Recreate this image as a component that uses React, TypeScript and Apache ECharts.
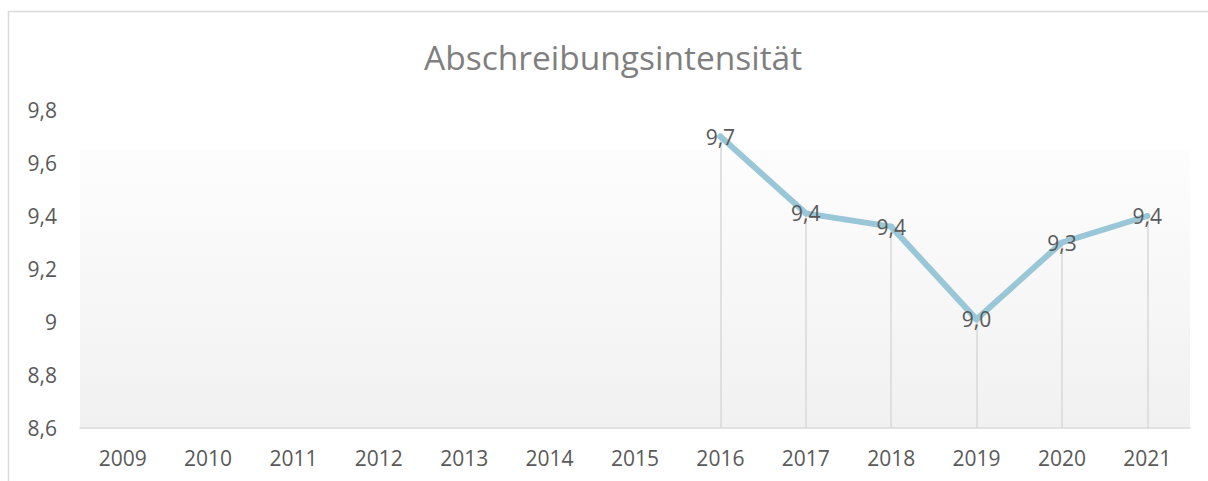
import React, { useEffect, useRef } from "react";
import * as echarts from "echarts";

const years = ["2009", "2010", "2011", "2012", "2013", "2014", "2015", "2016", "2017", "2018", "2019", "2020", "2021"];
const values: (number | null)[] = [null, null, null, null, null, null, null, 9.7, 9.41, 9.36, 9.01, 9.3, 9.4];
const yMin = 8.6;
const yMax = 9.8;
const yStep = 0.2;
const titleText = "Abschreibungsintensität";

const FONT = "'Open Sans', 'Noto Sans', sans-serif";

export default function App() {
  const ref = useRef<HTMLDivElement>(null);
  useEffect(() => {
    document.body.style.margin = "0";
    if (!ref.current) return;
    const chart = echarts.init(ref.current, undefined, { renderer: "svg" });
    const dropLines = values
      .map((v, i) => (v == null ? null : [{ coord: [i, v] }, { coord: [i, yMin] }]))
      .filter((d) => d != null);
    chart.setOption({
      animation: false,
      backgroundColor: "#ffffff",
      title: {
        text: titleText,
        left: 419,
        top: 35,
        textStyle: { fontFamily: FONT, fontSize: 33.5, fontWeight: "normal", color: "#7f7f7f" },
      },
      graphic: [
        {
          type: "rect",
          z: -1,
          silent: true,
          shape: { x: 8.5, y: 11.5, width: 1400, height: 700 },
          style: { fill: "none", stroke: "#d9d9d9", lineWidth: 1.5 },
        },
        {
          type: "rect",
          z: -1,
          silent: true,
          shape: { x: 80, y: 150, width: 1110, height: 277 },
          style: {
            fill: new echarts.graphic.LinearGradient(0, 0, 0, 1, [
              { offset: 0, color: "#fdfdfd" },
              { offset: 1, color: "#f1f1f1" },
            ]),
          },
        },
      ],
      grid: { left: 80, right: 18, top: 110, bottom: 53 },
      xAxis: {
        type: "category",
        data: years,
        boundaryGap: true,
        axisLine: { show: true, lineStyle: { color: "#d9d9d9", width: 1.5 } },
        axisTick: { show: false },
        splitLine: { show: false },
        axisLabel: { color: "#595959", fontFamily: FONT, fontSize: 21, margin: 19 },
      },
      yAxis: {
        type: "value",
        min: yMin,
        max: yMax,
        interval: yStep,
        axisLine: { show: false },
        axisTick: { show: false },
        splitLine: { show: false },
        axisLabel: {
          color: "#595959",
          fontFamily: FONT,
          fontSize: 21,
          margin: 23,
          formatter: (v: number) => String(Math.round(v * 10) / 10).replace(".", ","),
        },
      },
      series: [
        {
          type: "line",
          data: values,
          connectNulls: false,
          symbol: "circle",
          symbolSize: 6,
          itemStyle: { color: "#99c7d8" },
          lineStyle: { color: "#99c7d8", width: 6, cap: "round", join: "round" },
          label: {
            show: true,
            position: "inside",
            color: "#595959",
            fontFamily: FONT,
            fontSize: 21,
            formatter: (p: any) => Number(p.value).toFixed(1).replace(".", ","),
          },
          z: 3,
          markLine: {
            silent: true,
            symbol: ["none", "none"],
            label: { show: false },
            lineStyle: { color: "#d9d9d9", width: 1.5, type: "solid" },
            data: dropLines,
            z: 1,
          },
        },
      ],
    });
    return () => chart.dispose();
  }, []);
  return <div ref={ref} style={{ width: 1208, height: 481 }} />;
}
